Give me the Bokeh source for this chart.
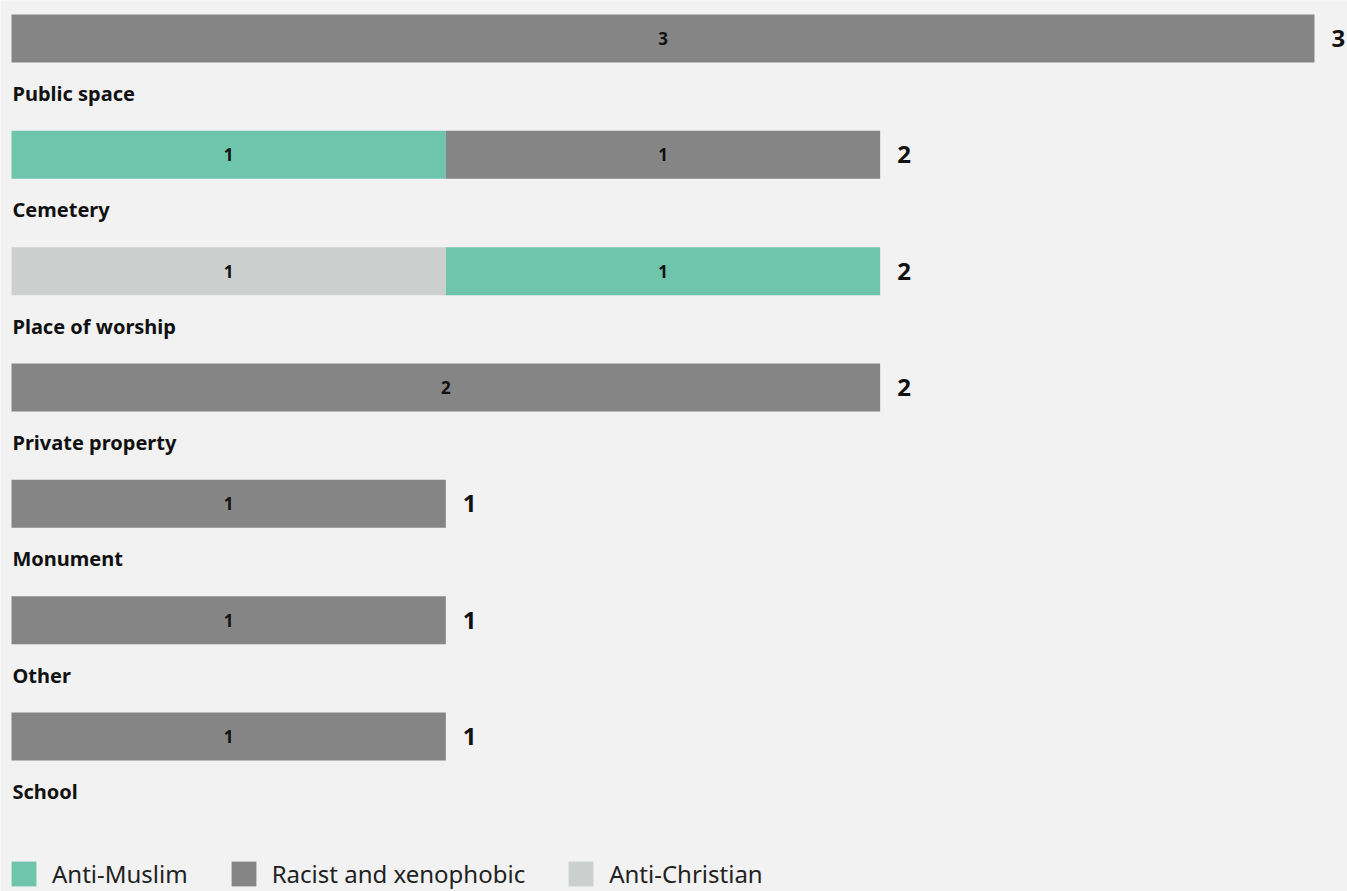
from bokeh.plotting import figure
from bokeh.models import ColumnDataSource, Range1d, Legend, LegendItem
from bokeh.core.properties import value
from bokeh.embed import file_html
from bokeh.resources import INLINE

categories = ["Public space", "Cemetery", "Place of worship", "Private property",
              "Monument", "Other", "School"]
anti_christian = [0, 0, 1, 0, 0, 0, 0]
anti_muslim = [0, 1, 1, 0, 0, 0, 0]
racist = [3, 1, 0, 2, 1, 1, 1]

series_names = ["Anti-Christian", "Anti-Muslim", "Racist and xenophobic"]
series_vals = [anti_christian, anti_muslim, racist]
colors = {"Anti-Muslim": "#6fc4ac", "Racist and xenophobic": "#858585", "Anti-Christian": "#cbcfce"}
legend_order = ["Anti-Muslim", "Racist and xenophobic", "Anti-Christian"]

W, H = 1347, 891
BG = "#f2f2f2"
k = 434.33          # px per unit
row = 116.33        # px per row
x0 = -11.0 / k
y_top = -38.0 / row
y_bot = y_top + H / row

p = figure(width=W, height=H, output_backend="svg", toolbar_location=None,
           x_range=Range1d(x0, x0 + W / k), y_range=Range1d(y_bot, y_top),
           min_border=0, min_border_left=0, min_border_right=0,
           min_border_top=0, min_border_bottom=0,
           background_fill_color=BG, border_fill_color=BG, outline_line_color=None)
p.xaxis.visible = False
p.yaxis.visible = False
p.grid.visible = False

idx = list(range(len(categories)))
data = {"y": idx, "cat": categories}
for n, v in zip(series_names, series_vals):
    data[n] = v
src = ColumnDataSource(data)

renderers = p.hbar_stack(series_names, y="y", height=48 / row, source=src,
                         color=[colors[n] for n in series_names], line_color=None)
rmap = dict(zip(series_names, renderers))

# segment labels
sx, sy, st = [], [], []
for i in idx:
    left = 0
    for v in series_vals:
        if v[i] > 0:
            sx.append(left + v[i] / 2)
            sy.append(i)
            st.append(str(v[i]))
        left += v[i]
p.text(x=sx, y=sy, text=st, text_align="center", text_baseline="middle",
       text_font=value("Noto Sans"), text_font_style="bold", text_font_size="17px",
       text_color="#111111")

# totals
totals = [sum(v[i] for v in series_vals) for i in idx]
p.text(x=totals, y=idx, text=[str(t) for t in totals], x_offset=17,
       text_align="left", text_baseline="middle",
       text_font=value("Noto Sans"), text_font_style="bold", text_font_size="24px",
       text_color="#111111")

# category labels
p.text(x=[0] * len(idx), y=[i + 55 / row for i in idx], text=categories,
       text_align="left", text_baseline="middle", x_offset=1,
       text_font=value("Noto Sans"), text_font_style="bold", text_font_size="20px",
       text_color="#111111")

legend = Legend(items=[LegendItem(label=n, renderers=[rmap[n]]) for n in legend_order],
                orientation="horizontal", location=(8, 1),
                glyph_width=31, glyph_height=31, label_standoff=13, spacing=40,
                padding=0, margin=0, border_line_alpha=0, background_fill_alpha=0,
                label_text_font="Noto Sans", label_text_font_size="24px",
                label_text_color="#222222", label_height=31)
p.add_layout(legend)

open("out.html", "w").write(file_html(p, INLINE))
